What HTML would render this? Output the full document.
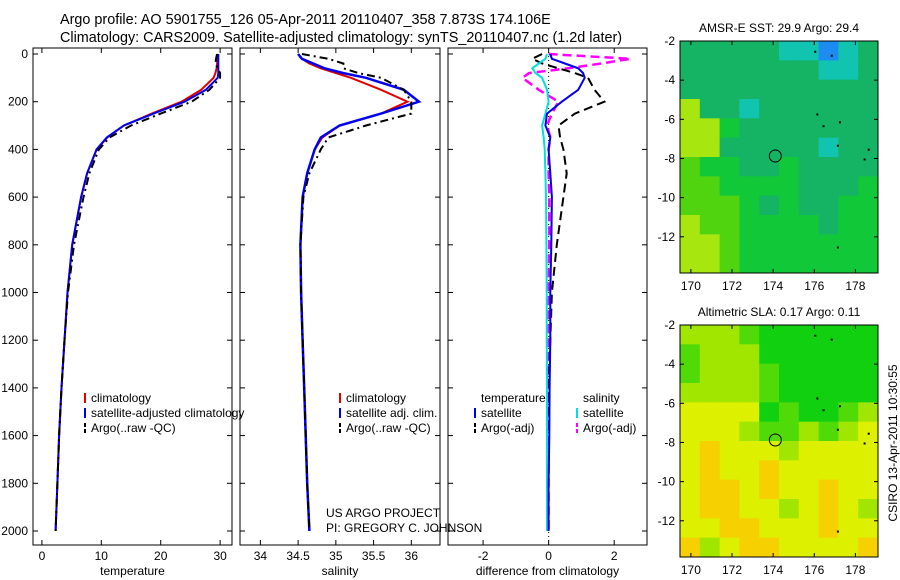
<!DOCTYPE html>
<html><head><meta charset="utf-8"><style>
body{margin:0;background:#fff;}
svg{display:block;font-family:"Liberation Sans",sans-serif;}
</style></head><body>
<svg id="c" width="900" height="580" viewBox="0 0 900 580">
<text x="60" y="24" font-size="14.4">Argo profile: AO 5901755_126 05-Apr-2011 20110407_358 7.873S 174.106E</text>
<text x="60" y="42" font-size="14.4">Climatology: CARS2009. Satellite-adjusted climatology: synTS_20110407.nc (1.2d later)</text>
<g id="g"></g>
</svg>
<script>
// depth grid (m)
const depths=[0,20,40,60,80,100,150,200,250,300,350,400,500,600,800,1000,1200,1400,1600,1800,2000];
// temperature
const tempClim=[29.6,29.6,29.5,29.4,29.2,28.9,26.8,23.5,18.5,13.8,11,9.2,7.6,6.6,5.1,4.3,3.8,3.3,2.9,2.6,2.3];
const tempSat=[29.7,29.7,29.7,29.7,29.7,29.6,27.6,24.0,18.8,13.8,10.9,9.2,7.6,6.6,5.1,4.3,3.8,3.3,2.9,2.6,2.3];
const tempArgo=[29.5,29.3,29.2,29.6,30.0,30.0,28.2,25.2,20.0,15.0,11.4,9.6,8.0,7.0,5.4,4.4,3.8,3.3,2.9,2.6,2.3];
// salinity
const salClim=[34.5,34.55,34.65,34.8,35.0,35.2,35.6,35.95,35.6,35.05,34.82,34.72,34.62,34.56,34.53,34.54,34.56,34.58,34.6,34.62,34.65];
const salSat=[34.5,34.55,34.7,34.85,35.1,35.4,35.9,36.1,35.6,35.05,34.8,34.72,34.62,34.56,34.53,34.54,34.56,34.58,34.6,34.62,34.65];
const salArgo=[34.55,34.9,35.1,35.1,35.3,35.6,35.9,36.0,36.0,35.4,34.9,34.8,34.65,34.57,34.53,34.54,34.56,34.58,34.6,34.62,34.65];
// differences
const dTempSat=[0.05,0.1,0.5,0.9,1.05,1.1,0.9,0.4,-0.05,-0.1,0.05,0.0,0.05,0.1,0.08,0.05,0.05,0.03,0.02,0.0,0.0];
const dTempArgo=[-0.2,-0.5,-0.2,0.3,0.8,1.2,1.4,1.7,0.8,0.3,0.35,0.45,0.55,0.45,0.25,0.1,0.05,0.0,-0.05,-0.05,-0.05];
const dSalSat=[-0.05,-0.1,-0.3,-0.5,-0.4,-0.2,-0.05,0.0,-0.1,-0.2,-0.15,-0.12,-0.1,-0.08,-0.07,-0.06,-0.06,-0.05,-0.05,-0.05,-0.05];
const dSalArgo=[0.0,2.5,1.6,0.6,-0.6,-0.8,-0.3,0.3,0.1,-0.05,0.05,0.0,0.0,0.02,0.02,0.0,0.0,0.0,0.0,0.0,0.0];
// map grids (codes)
const sstRows=["aaaaaeefea","aaaaaaaeea","aaaaaaaaaa","daaeaaaaaa","ddbaaaaaaa","ddaaaaaeaa","cbbaabaaaa","ccbbbbaaab","cccbabaabb","dccbbbbabb","ddcbbbbbbb","ddcbbbbbbb"];
const slaRows=["lllgGGGGGG","glllGGGGGG","glllgGGGGG","llllgGGGGG","yyyyGgGGgl","yyylgglgly","yoyyylyyyy","yoyyoyyyyy","yooyoyyoyy","yooyylyoyl","yyooyyyoyy","olyooyyyyo"];
const cmap={a:"#14b464",b:"#10c838",c:"#50d410",d:"#a8e610",e:"#10c4b0",f:"#1c8cf0",G:"#10d010",g:"#50da08",l:"#a0e600",y:"#dcf000",o:"#f6d000"};
const depthTicks=[0,200,400,600,800,1000,1200,1400,1600,1800,2000];

const NS="http://www.w3.org/2000/svg";
const G=document.getElementById('g');
function mk(t,a,p){const e=document.createElementNS(NS,t);for(const k in a)e.setAttribute(k,a[k]);(p||G).appendChild(e);return e;}
const Y0=48,Y1=545;
const yD=d=>54+d*0.2385;

const panels=[
 {x0:33,x1:232,v0:-1.5,v1:32,ticks:[0,10,20,30],lab:"temperature",name:"temperature"},
 {x0:240,x1:440,v0:33.73,v1:36.38,ticks:[34,34.5,35,35.5,36],lab:"salinity",name:"salinity"},
 {x0:448,x1:647,v0:-3.07,v1:3.0,ticks:[-2,0,2],lab:"difference from climatology",name:"difference"}];
panels.forEach((p,i)=>{
  p.sx=v=>p.x0+(v-p.v0)/(p.v1-p.v0)*(p.x1-p.x0);
  const b=mk('rect',{x:p.x0,y:Y0,width:p.x1-p.x0,height:Y1-Y0,fill:'#fff',stroke:'#000','stroke-width':1});
  
  
  p.ticks.forEach(t=>{const x=p.sx(t);
    mk('line',{x1:x,x2:x,y1:Y1,y2:Y1-5,stroke:'#000'});mk('line',{x1:x,x2:x,y1:Y0,y2:Y0+5,stroke:'#000'});
    const tx=mk('text',{x:x,y:Y1+15,'font-size':12,'text-anchor':'middle'});tx.textContent=t;
    
    });
  depthTicks.forEach(d=>{const y=yD(d);
    mk('line',{x1:p.x0,x2:p.x0+5,y1:y,y2:y,stroke:'#000'});mk('line',{x1:p.x1,x2:p.x1-5,y1:y,y2:y,stroke:'#000'});
    if(i==0){const tx=mk('text',{x:28,y:y+4,'font-size':12,'text-anchor':'end'});tx.textContent=d;
      
      }});
  const xt=mk('text',{x:(p.x0+p.x1)/2,y:Y1+30,'font-size':12,'text-anchor':'middle'});xt.textContent=p.lab;
  
  
});
function line(p,vals,col,w,dash,name){
  const pts=vals.map((v,i)=>p.sx(v).toFixed(1)+','+yD(depths[i]).toFixed(1)).join(' ');
  const a={points:pts,fill:'none',stroke:col,'stroke-width':w};if(dash)a['stroke-dasharray']=dash;
  const e=mk('polyline',a);
  
  
}
const P=panels;
line(P[0],tempClim,'#e00000',2,null,'temp-climatology-line');
line(P[0],tempSat,'#0000ee',2,null,'temp-satellite-line');
line(P[0],tempArgo,'#000',2,'8,4,2,4','temp-argo-line');
line(P[1],salClim,'#e00000',2,null,'sal-climatology-line');
line(P[1],salSat,'#0000ee',2.5,null,'sal-satellite-line');
line(P[1],salArgo,'#000',2,'8,4,2,4','sal-argo-line');
mk('line',{x1:P[2].sx(0),x2:P[2].sx(0),y1:Y0,y2:Y1,stroke:'#000','stroke-dasharray':'1,3'});
line(P[2],dSalArgo,'#ff00ff',2.5,'9,5','dsal-argo-line');
line(P[2],dTempArgo,'#000',2,'9,5','dtemp-argo-line');
line(P[2],dSalSat,'#00e0e0',2,null,'dsal-satellite-line');
line(P[2],dTempSat,'#0000ee',2,null,'dtemp-satellite-line');

function leg(x,y,col,dash,txt,name){
  const l=mk('line',{x1:x,x2:x,y1:y-9,y2:y+1,stroke:col,'stroke-width':2});if(dash)l.setAttribute('stroke-dasharray','4,2');
  const t=mk('text',{x:x+6,y:y,'font-size':12});t.textContent=txt;
  
  
}
leg(85,402,'#e00000',0,'climatology','legend-climatology');
leg(85,417,'#0000ee',0,'satellite-adjusted climatology','legend-satellite');
leg(85,432,'#000',1,'Argo(..raw -QC)','legend-argo');
leg(340,402,'#e00000',0,'climatology','legend-sal-climatology');
leg(340,417,'#0000ee',0,'satellite adj. clim.','legend-sal-satellite');
leg(340,432,'#000',1,'Argo(..raw -QC)','legend-sal-argo');
let t=mk('text',{x:481,y:402,'font-size':12});t.textContent='temperature';


t=mk('text',{x:583,y:402,'font-size':12});t.textContent='salinity';


leg(475,417,'#0000ee',0,'satellite','legend-dtemp-satellite');
leg(475,432,'#000',1,'Argo(-adj)','legend-dtemp-argo');
leg(577,417,'#00e0e0',0,'satellite','legend-dsal-satellite');
leg(577,432,'#ff00ff',1,'Argo(-adj)','legend-dsal-argo');
t=mk('text',{x:326,y:517,'font-size':12});t.textContent='US ARGO PROJECT';


t=mk('text',{x:326,y:532,'font-size':12});t.textContent='PI: GREGORY C. JOHNSON';



// maps
function map(y0,rows,title,name){
  const x0=680,x1=878,y1=y0+232;
  const lon=v=>x0+(v-169.47)/(179.1-169.47)*(x1-x0);
  const lat=v=>y0+(-2-v)/(11.85)*(y1-y0);
  const cw=(x1-x0)/10,ch=(y1-y0)/rows.length;
  rows.forEach((r,j)=>[...r].forEach((c,i)=>{
    mk('rect',{x:x0+i*cw,y:y0+j*ch,width:cw+0.5,height:ch+0.5,fill:cmap[c]});}));
  const b=mk('rect',{x:x0,y:y0,width:x1-x0,height:y1-y0,fill:'none',stroke:'#000'});
  
  
  [170,172,174,176,178].forEach(v=>{const x=lon(v);
    mk('line',{x1:x,x2:x,y1:y1,y2:y1-4,stroke:'#000'});mk('line',{x1:x,x2:x,y1:y0,y2:y0+4,stroke:'#000'});
    const tx=mk('text',{x:x,y:y1+17,'font-size':12,'text-anchor':'middle'});tx.textContent=v;
    
    });
  [-2,-4,-6,-8,-10,-12].forEach(v=>{const y=lat(v);
    mk('line',{x1:x0,x2:x0+4,y1:y,y2:y,stroke:'#000'});mk('line',{x1:x1,x2:x1-4,y1:y,y2:y,stroke:'#000'});
    const tx=mk('text',{x:675,y:y+4,'font-size':12,'text-anchor':'end'});tx.textContent=v;
    
    });
  const c=mk('circle',{cx:lon(174.106),cy:lat(-7.873),r:6,fill:'none',stroke:'#000'});
  
  
  [[176,-2.5],[176.8,-2.7],[176.1,-5.7],[177.2,-6.1],[177.1,-7.3],[178.4,-8],[178.6,-7.5],[177.1,-12.5],[176.4,-6.3]].forEach(p=>mk('rect',{x:lon(p[0]),y:lat(p[1]),width:2,height:2,fill:'#000'}));
  const tt=mk('text',{x:779,y:y0-9,'font-size':12,'text-anchor':'middle'});tt.textContent=title;
  
  
}
map(41,sstRows,'AMSR-E SST: 29.9 Argo: 29.4','sst');
map(325,slaRows,'Altimetric SLA: 0.17 Argo: 0.11','sla');
t=mk('text',{x:0,y:0,'font-size':12,'text-anchor':'middle',transform:'translate(897,443) rotate(-90)'});t.textContent='CSIRO 13-Apr-2011 10:30:55';


</script>
</body></html>
